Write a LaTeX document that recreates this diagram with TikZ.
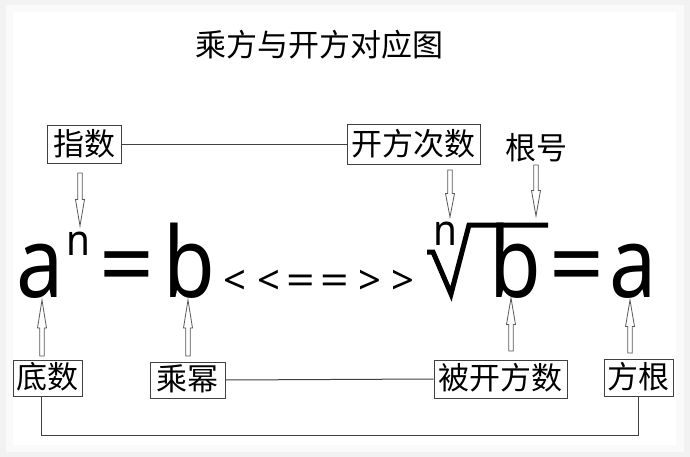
\documentclass[tikz,border=0pt]{standalone}
\usepackage{fontspec}
\setmainfont{Noto Sans}
\newfontfamily\cjk{Noto Sans CJK SC}
\newfontfamily\latn{Noto Sans}
\newcommand\harr[3]{\draw[harrstyle] ({#1-2.3},#2) -- ({#1-2.3},{#2+0.5*(#3-#2)}) -- ({#1-4.5},{#2+0.5*(#3-#2)}) -- (#1,#3) -- ({#1+4.5},{#2+0.5*(#3-#2)}) -- ({#1+2.3},{#2+0.5*(#3-#2)}) -- ({#1+2.3},#2) -- cycle;}
\tikzset{
  lbl/.style={draw=black!75, line width=1pt, fill=white, inner sep=0pt, font=\cjk\fontsize{31}{31}\selectfont, text height=25pt, text depth=4pt},
  plain/.style={inner sep=0pt, font=\cjk\fontsize{31}{31}\selectfont},
  conn/.style={draw=black!75, line width=1pt},
  harrstyle/.style={draw=black!65, line width=0.8pt, fill=white},
  big/.style={inner sep=0pt, anchor=base, xscale=0.86, font=\latn\fontsize{98}{98}\selectfont},
  bigeq/.style={inner sep=0pt, anchor=base, xscale=1.02, font=\latn\fontsize{94}{94}\selectfont},
  sup/.style={inner sep=0pt, anchor=base, xscale=0.9, font=\latn\fontsize{43}{43}\selectfont},
  mid/.style={inner sep=0pt, anchor=base, font=\latn\fontsize{40}{40}\selectfont},
  mideq/.style={inner sep=0pt, anchor=base, xscale=1.25, font=\latn\fontsize{40}{40}\selectfont},
}
\begin{document}
\begin{tikzpicture}[x=1pt,y=-1pt]
\useasboundingbox (0,0) rectangle (690,457);
\fill[black!5] (0,0) rectangle (690,457);
\fill[black!2] (6,5) rectangle (684,452);
\fill[white] (13,12) rectangle (676,445);
% title
\node[plain] (title) at (319,45) {乘方与开方对应图};
% label boxes
\node[lbl, minimum width=74pt, minimum height=38pt] (zhishu) at (84,145) {指数};
\node[lbl, minimum width=133pt, minimum height=40pt] (cishu) at (413.5,145) {开方次数};
\node[plain] (genhao) at (536,148) {根号};
\node[lbl, minimum width=69pt, minimum height=36pt] (dishu) at (47.5,378) {底数};
\node[lbl, minimum width=75pt, minimum height=36pt] (chengmi) at (187.5,380) {乘幂};
\node[lbl, minimum width=133pt, minimum height=38pt] (beikai) at (500.5,379) {被开方数};
\node[lbl, minimum width=69pt, minimum height=37pt] (fanggen) at (638.5,377.5) {方根};
% connectors
\draw[conn] (zhishu.east) -- (cishu.west);
\draw[conn] (chengmi.east) -- (beikai.west);
\draw[conn] ([xshift=-6pt]dishu.south) -- ++(0,39) coordinate (bl) -| (fanggen.south);
% formula left
\node[big] (a1) at (40,297) {a};
\node[sup] (n1) at (78.5,255) {n};
\node[bigeq] (eq1) at (126.5,297) {=};
\node[big] (b1) at (189,297) {b};
% middle
\node[mid] (m1) at (235,294) {<};
\node[mid] (m2) at (269,294) {<};
\node[mideq] (m3) at (301,294) {=};
\node[mideq] (m4) at (335,294) {=};
\node[mid] (m5) at (370,294) {>};
\node[mid] (m6) at (403,294) {>};
% formula right
\node[sup] (n2) at (445,245) {n};
\draw[line width=5pt, line join=miter, line cap=butt] (427,252) -- (433,252) -- (451,294) -- (469,225) -- (548,225);
\node[big] (b2) at (515,297) {b};
\node[bigeq] (eq2) at (576.5,297) {=};
\node[big] (a2) at (633,297) {a};
% hollow arrows
\harr{80}{173}{226}
\harr{450}{170}{217}
\harr{536}{165}{216}
\harr{42}{356}{300}
\harr{188}{356}{300}
\harr{511}{351}{298}
\harr{630}{353}{300}
\end{tikzpicture}
\end{document}
